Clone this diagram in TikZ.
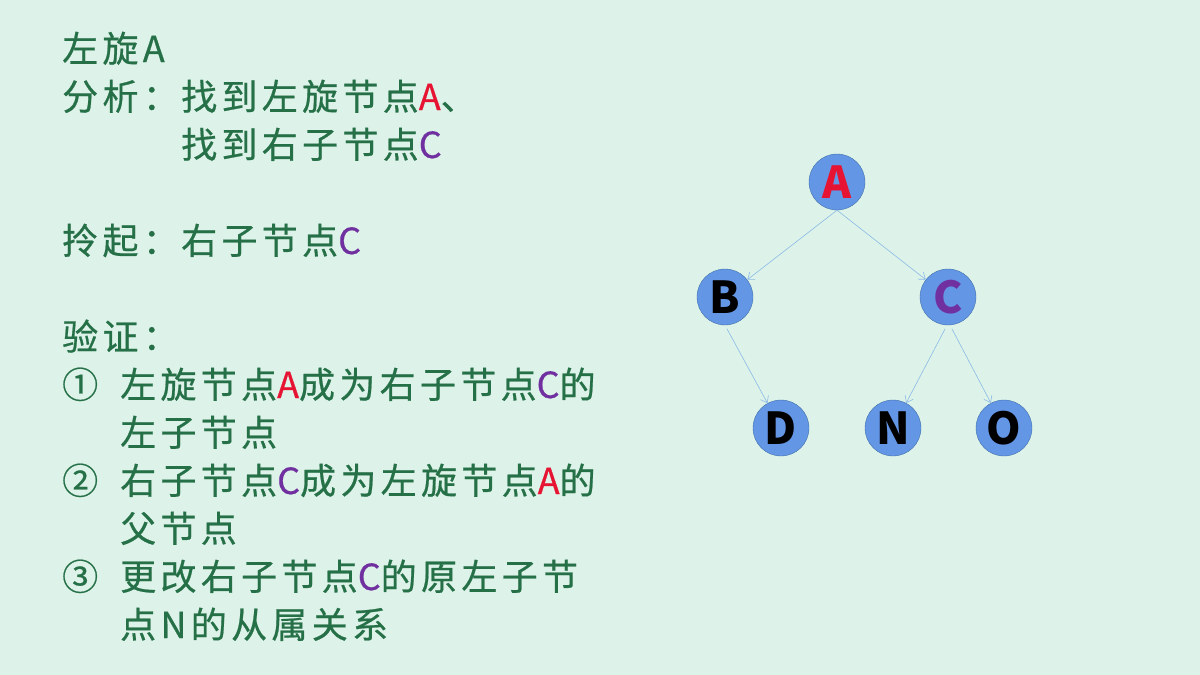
\documentclass[tikz,border=0pt]{standalone}
\usepackage{fontspec}
\setmainfont{Noto Sans CJK SC}
\usepackage{tikz}
\usetikzlibrary{arrows.meta}

\definecolor{bgmint}{RGB}{221,243,233}
\definecolor{textgreen}{RGB}{38,112,72}
\definecolor{keyred}{RGB}{230,20,50}
\definecolor{keypurple}{RGB}{112,48,160}
\definecolor{nodefill}{RGB}{100,150,230}
\definecolor{nodeedge}{RGB}{65,113,170}
\definecolor{linkblue}{RGB}{140,185,230}

\newcommand{\ra}{\textcolor{keyred}{A}}
\newcommand{\pc}{\textcolor{keypurple}{C}}

\begin{document}
\begin{tikzpicture}[x=1pt,y=-1pt,
    txt/.style={anchor=base west,inner sep=0pt,text=textgreen,
      font=\fontsize{36}{44}\selectfont\addfontfeature{LetterSpace=12,FakeBold=0.6}},
    tnode/.style={circle,draw=nodeedge,fill=nodefill,minimum size=56pt,
      inner sep=0pt,font=\fontsize{44}{44}\selectfont\bfseries},
    link/.style={draw=linkblue,line width=0.6pt,
      -{Straight Barb[length=6pt,width=9pt]}}]
  \fill[bgmint] (0,0) rectangle (1200,675);
  \useasboundingbox (0,0) rectangle (1200,675);

  % left text
  \node[txt] (title) at (62,62) {左旋A};
  \node[txt] (ana) at (62,110) {分析：};
  \node[txt] (ana1) at (181,110) {找到左旋节点\ra、};
  \node[txt] (ana2) at (181,158) {找到右子节点\pc};
  \node[txt] (lift) at (62,254) {拎起：};
  \node[txt] (lift1) at (181,254) {右子节点\pc};
  \node[txt] (chk) at (62,350) {验证：};
  \node[txt] (n1) at (62,398) {①};
  \node[txt] (s1) at (120,398) {左旋节点\ra 成为右子节点\pc 的};
  \node[txt] (s1b) at (120,446) {左子节点};
  \node[txt] (n2) at (62,494) {②};
  \node[txt] (s2) at (120,494) {右子节点\pc 成为左旋节点\ra 的};
  \node[txt] (s2b) at (120,542) {父节点};
  \node[txt] (n3) at (62,590) {③};
  \node[txt] (s3) at (120,590) {更改右子节点\pc 的原左子节};
  \node[txt] (s3b) at (120,638) {点N的从属关系};

  % tree
  \node[tnode,text=keyred] (A) at (837,182) {A};
  \node[tnode] (B) at (725,297) {B};
  \node[tnode,text=keypurple] (C) at (948,297) {C};
  \node[tnode] (D) at (781,428) {D};
  \node[tnode] (N) at (893,428) {N};
  \node[tnode] (O) at (1004,428) {O};

  \draw[link] (A.south) -- (B);
  \draw[link] (A.south) -- (C);
  \draw[link,shorten <=4pt] (B.south) -- (D);
  \draw[link,shorten <=4pt] ([xshift=-1pt]C.south) -- (N);
  \draw[link,shorten <=4pt] ([xshift=2pt]C.south) -- (O);
\end{tikzpicture}
\end{document}
